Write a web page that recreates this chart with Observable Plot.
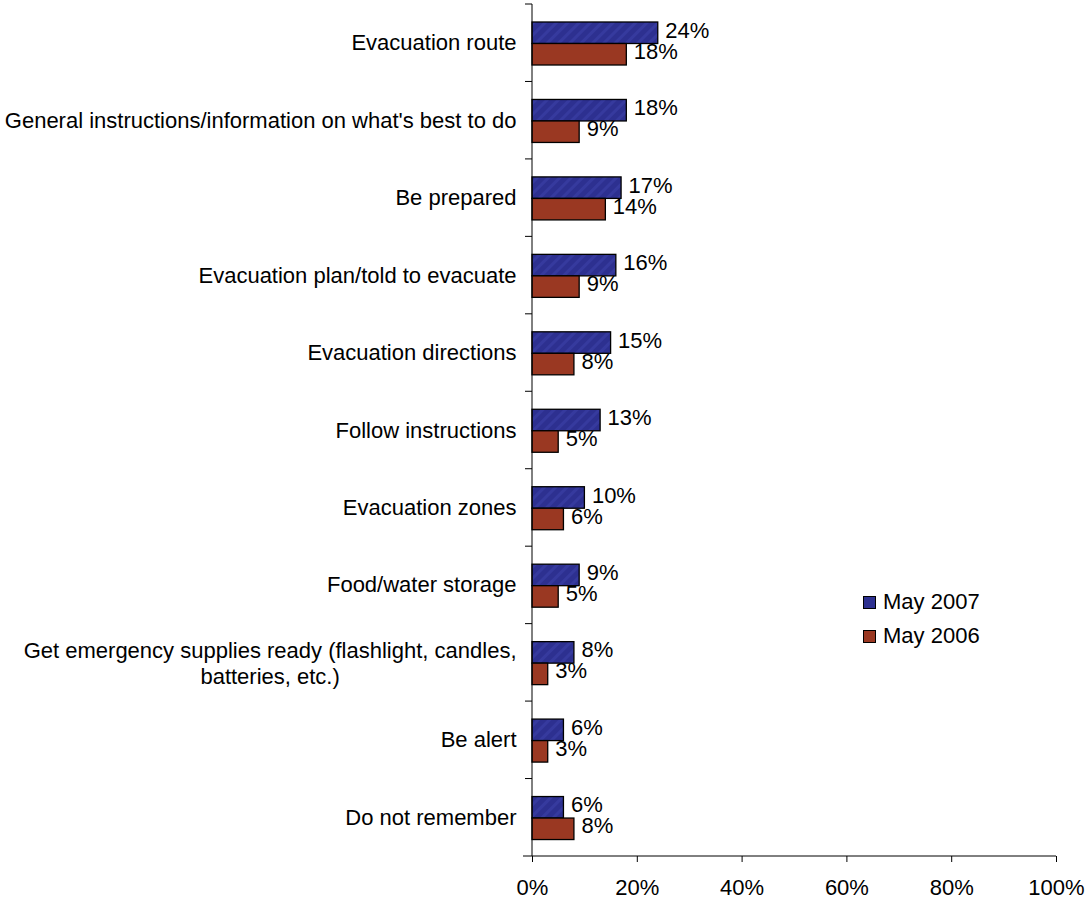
<!DOCTYPE html>
<html>
<head>
<meta charset="utf-8">
<script src="https://cdn.jsdelivr.net/npm/d3@7"></script>
<script src="https://cdn.jsdelivr.net/npm/@observablehq/plot@0.6"></script>
<style>
  html, body { margin: 0; padding: 0; background: #fff; }
  #wrap { position: relative; width: 1087px; height: 899px; font-family: "Liberation Sans", Arial, sans-serif; }
  #legend { position: absolute; left: 863px; top: 585px; font-size: 22px; color: #000; }
  #legend .item { display: flex; align-items: center; height: 34px; }
  #legend .sw { width: 11px; height: 11px; border: 1px solid #000; margin-right: 7px; }
</style>
</head>
<body>
<div id="wrap"></div>
<script>
const categories = [
  "Evacuation route",
  "General instructions/information on what's best to do",
  "Be prepared",
  "Evacuation plan/told to evacuate",
  "Evacuation directions",
  "Follow instructions",
  "Evacuation zones",
  "Food/water storage",
  "Get emergency supplies ready (flashlight, candles,\nbatteries, etc.)",
  "Be alert",
  "Do not remember"
];
const may2007 = [24, 18, 17, 16, 15, 13, 10, 9, 8, 6, 6];
const may2006 = [18, 9, 14, 9, 8, 5, 6, 5, 3, 3, 8];
const seriesNames = ["May 2007", "May 2006"];
const xTicks = [0, 20, 40, 60, 80, 100];

const blueFill = "#2d3090";
const redFill = "#9a3822";

const d07 = categories.map((c, i) => ({cat: c, v: may2007[i]}));
const d06 = categories.map((c, i) => ({cat: c, v: may2006[i]}));

const W = 1087, H = 899;
const mL = 532, mR = 31, mT = 4, mB = 43;
const step = (H - mT - mB) / categories.length;
const FS = 22;

// measure text for the centered multi-line label
const cnv = document.createElement("canvas").getContext("2d");
cnv.font = FS + "px 'Liberation Sans', Arial, sans-serif";
const labelGap = 16;
const singles = categories.filter(c => !c.includes("\n"));
const multis = categories.filter(c => c.includes("\n"));
const multiDx = c => -(labelGap + d3.max(c.split("\n"), s => cnv.measureText(s).width) / 2);

function axesMark(index, scales, values, dims) {
  const g = d3.create("svg:g").attr("stroke", "#000").attr("stroke-width", 1);
  const x0 = scales.x(0);
  const top = dims.marginTop, bottom = dims.height - dims.marginBottom;
  g.append("line").attr("x1", x0).attr("x2", x0).attr("y1", top).attr("y2", bottom);
  g.append("line").attr("x1", x0 - 9).attr("x2", dims.width - dims.marginRight).attr("y1", bottom).attr("y2", bottom);
  const n = categories.length;
  const s = (bottom - top) / n;
  for (let i = 0; i < n; i++) {
    const y = top + i * s;
    g.append("line").attr("x1", x0 - 7).attr("x2", x0).attr("y1", y).attr("y2", y);
  }
  return g.node();
}

const plot = Plot.plot({
  width: W,
  height: H,
  marginLeft: mL,
  marginRight: mR,
  marginTop: mT,
  marginBottom: mB,
  style: {fontFamily: "'Liberation Sans', Arial, sans-serif", fontSize: FS + "px", color: "#000", background: "#fff"},
  x: {domain: [0, 100]},
  y: {domain: categories, padding: 0, round: false, axis: null},
  marks: [
    Plot.barX(d07, {x: "v", y: "cat", fill: "url(#hatch07)", stroke: "#000", strokeWidth: 1.3,
      insetTop: 18, insetBottom: step - 39.5}),
    Plot.barX(d06, {x: "v", y: "cat", fill: redFill, stroke: "#000", strokeWidth: 1.3,
      insetTop: 39.5, insetBottom: step - 61}),
    Plot.text(d07, {x: "v", y: "cat", text: d => d.v + "%", textAnchor: "start", dx: 7, dy: -12.5, fontSize: FS, fill: "#000"}),
    Plot.text(d06, {x: "v", y: "cat", text: d => d.v + "%", textAnchor: "start", dx: 7, dy: 8.5, fontSize: FS, fill: "#000"}),
    Plot.text(singles, {y: d => d, text: d => d, frameAnchor: "left", textAnchor: "end", dx: -labelGap, fontSize: FS, fill: "#000"}),
    ...multis.map(c => Plot.text([c], {y: d => d, text: d => d, frameAnchor: "left", textAnchor: "middle", dx: multiDx(c), lineHeight: 1.18, fontSize: FS, fill: "#000"})),
    Plot.axisX(xTicks, {tickSize: 6, tickPadding: 17, tickFormat: d => d + "%", fontSize: FS, label: null}),
    axesMark
  ]
});

// hatch pattern for May 2007 bars
const defs = d3.select(plot).insert("defs", ":first-child");
const pat = defs.append("pattern").attr("id", "hatch07").attr("patternUnits", "userSpaceOnUse")
  .attr("width", 8).attr("height", 8).attr("patternTransform", "rotate(45)");
pat.append("rect").attr("width", 8).attr("height", 8).attr("fill", blueFill);
pat.append("rect").attr("width", 3).attr("height", 8).attr("fill", "#363a9e");

const wrap = document.getElementById("wrap");
wrap.appendChild(plot);

const legend = document.createElement("div");
legend.id = "legend";
legend.innerHTML = seriesNames.map((name, i) =>
  `<div class="item"><div class="sw" style="background:${i === 0 ? blueFill : redFill}"></div><span>${name}</span></div>`
).join("");
wrap.appendChild(legend);
</script>
</body>
</html>
